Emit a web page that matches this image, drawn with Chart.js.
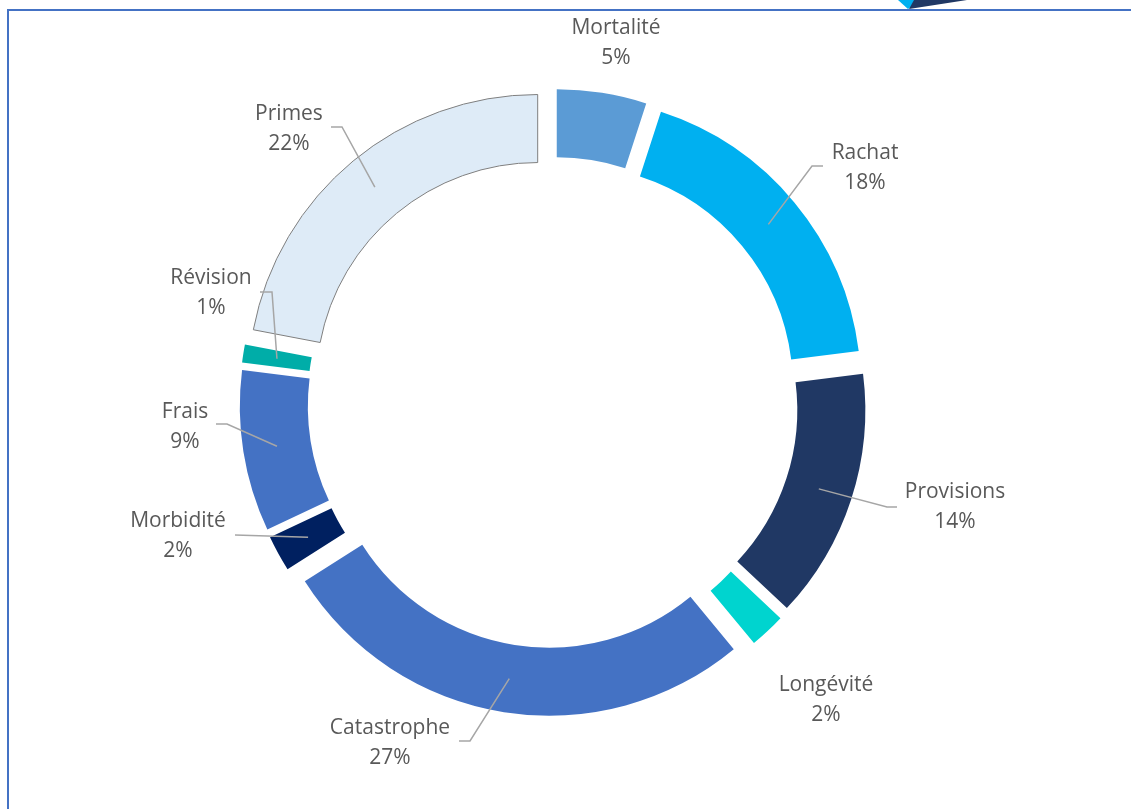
<!DOCTYPE html>
<html lang="fr">
<head>
<meta charset="utf-8">
<title>Répartition des risques</title>
<script src="https://cdn.jsdelivr.net/npm/chart.js@4.4.1/dist/chart.umd.min.js"></script>
<style>
    html, body { margin: 0; padding: 0; background: #fff; }
    #wrap { position: relative; width: 1131px; height: 809px; overflow: hidden; }
    #cadre {
        position: absolute; left: 7px; top: 9px; right: -10px; bottom: -10px;
        border-left: 2px solid #4472C4; border-top: 2px solid #4472C4;
    }
    #deco { position: absolute; left: 0; top: 0; }
    #riskChart { position: absolute; left: 0; top: 0; }
</style>
</head>
<body>
<div id="wrap">
    <svg id="deco" width="1131" height="12">
        <polygon points="898,0 921,0 908,9" fill="#00B0F0"/>
        <polygon points="914,0 967,0 909,9" fill="#203864"/>
    </svg>
    <div id="cadre"></div>
    <canvas id="riskChart" width="1131" height="809"></canvas>
</div>
<script>
// Données du graphique
const categories = ['Mortalité', 'Rachat', 'Provisions', 'Longévité', 'Catastrophe', 'Morbidité', 'Frais', 'Révision', 'Primes'];
const parts = [5, 18, 14, 2, 27, 2, 9, 1, 22];

// Couleurs des segments
const couleurs = ['#5B9BD5', '#00B0F0', '#203864', '#00D4CF', '#4472C4', '#002060', '#4472C4', '#00ADA8', '#DEEBF7'];
const bordures = [0, 0, 0, 0, 0, 0, 0, 0, 1];

// Position des étiquettes (décalage par rapport au centre), coude et fin des traits de rappel
const etiquettes = [
    { txt: [63, -359.5], coude: null, fin: null },
    { txt: [312, -234.5], coude: [259, -236.5], fin: [270, -236.5] },
    { txt: [402, 105], coude: [334, 104.5], fin: [344, 104.5] },
    { txt: [273, 298], coude: null, fin: null },
    { txt: [-163, 340.5], coude: [-83, 338.5], fin: [-94, 338.5] },
    { txt: [-375, 134], coude: [-318, 132.5], fin: [-318, 132.5] },
    { txt: [-368, 24.5], coude: [-326, 21.5], fin: [-337, 21.5] },
    { txt: [-342, -109.5], coude: [-281, -110.5], fin: [-293, -110.5] },
    { txt: [-264, -273.5], coude: [-211, -275.5], fin: [-222, -275.5] }
];

const ECLATEMENT = 24; // décalage de chaque segment vers l'extérieur

// Segments éclatés comme dans Excel : on translate chaque arc selon sa bissectrice
const Arc = Chart.ArcElement || Chart.elements.ArcElement;
const dessinArc = Arc.prototype.draw;
Arc.prototype.draw = function(ctx) {
    const mid = (this.startAngle + this.endAngle) / 2;
    ctx.save();
    ctx.translate(Math.cos(mid) * ECLATEMENT, Math.sin(mid) * ECLATEMENT);
    dessinArc.call(this, ctx);
    ctx.restore();
};

const pluginEtiquettes = {
    id: 'etiquettes',
    afterDatasetsDraw(chart) {
        const ctx = chart.ctx;
        const meta = chart.getDatasetMeta(0);
        ctx.save();
        meta.data.forEach((arc, i) => {
            const p = arc.getProps(['x', 'y', 'startAngle', 'endAngle', 'innerRadius', 'outerRadius'], true);
            const cx = p.x, cy = p.y;
            const mid = (p.startAngle + p.endAngle) / 2;
            const r = (p.innerRadius + p.outerRadius) / 2 + ECLATEMENT;
            const e = etiquettes[i];

            // trait de rappel
            if (e.coude) {
                ctx.strokeStyle = '#A6A6A6';
                ctx.lineWidth = 1.5;
                ctx.beginPath();
                ctx.moveTo(cx + Math.cos(mid) * r, cy + Math.sin(mid) * r);
                ctx.lineTo(cx + e.coude[0], cy + e.coude[1]);
                ctx.lineTo(cx + e.fin[0], cy + e.fin[1]);
                ctx.stroke();
            }

            // texte : catégorie + pourcentage
            ctx.fillStyle = '#595959';
            ctx.font = '21px "Open Sans", sans-serif';
            ctx.textAlign = 'center';
            ctx.textBaseline = 'middle';
            const tx = cx + e.txt[0], ty = cy + e.txt[1];
            ctx.fillText(categories[i], tx, ty - 15);
            ctx.fillText(parts[i] + '%', tx, ty + 15);
        });
        ctx.restore();
    }
};

document.addEventListener('DOMContentLoaded', function() {
    const ctx = document.getElementById('riskChart').getContext('2d');
    new Chart(ctx, {
        type: 'doughnut',
        data: {
            labels: categories,
            datasets: [{
                data: parts,
                backgroundColor: couleurs,
                borderColor: '#7F7F7F',
                borderWidth: bordures
            }]
        },
        options: {
            responsive: false,
            animation: false,
            events: [],
            cutout: '76.5%',
            layout: { padding: { left: 263, right: 288, top: 112, bottom: 116 } },
            plugins: {
                legend: { display: false },
                tooltip: { enabled: false }
            }
        },
        plugins: [pluginEtiquettes]
    });
});
</script>
</body>
</html>
